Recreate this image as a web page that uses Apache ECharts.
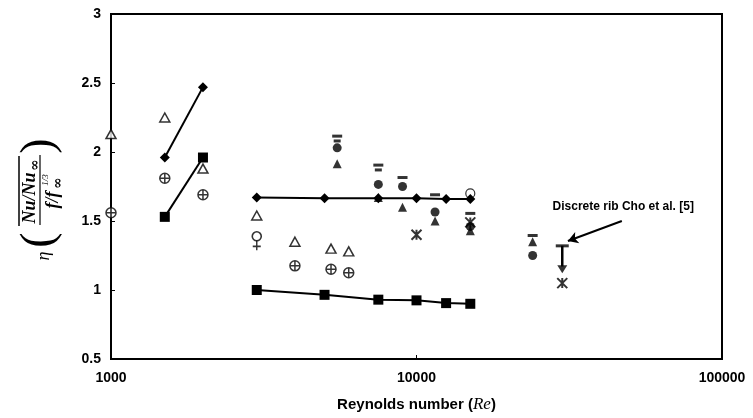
<!DOCTYPE html>
<html>
<head>
<meta charset="utf-8">
<script src="https://cdn.jsdelivr.net/npm/echarts@6/dist/echarts.min.js"></script>
<style>html,body{margin:0;padding:0;background:#fff;}#c{width:753px;height:418px;}</style>
</head>
<body>
<div id="c"></div>
<script>
// ---- data ----
const xTicks = [1000, 10000, 100000];
const yTicks = [0.5, 1, 1.5, 2, 2.5, 3];
const reLeft = [1500, 2000];
const diamondLeft = [1.96, 2.47];
const squareLeft = [1.53, 1.96];
const reMid = [3000, 5000, 7500, 10000, 12500, 15000];
const diamondMid = [1.67, 1.665, 1.665, 1.665, 1.66, 1.66];
const squareMid = [1.00, 0.965, 0.93, 0.925, 0.905, 0.90];
const openTriRe = [1000, 1500, 2000, 3000, 4000, 5250, 6000];
const openTriVal = [2.13, 2.25, 1.88, 1.54, 1.35, 1.30, 1.28];
const crossCircRe = [1000, 1500, 2000, 4000, 5250, 6000];
const crossCircVal = [1.56, 1.81, 1.69, 1.175, 1.15, 1.125];
const venusRe = [3000];
const venusVal = [1.36];
const dotRe = [5500, 7500, 9000, 11500, 15000, 24000];
const dotVal = [2.03, 1.765, 1.75, 1.565, 1.46, 1.25];
const triRe = [5500, 7500, 9000, 11500, 15000, 24000];
const triVal = [1.915, 1.67, 1.60, 1.50, 1.43, 1.35];
const barRe = [5500, 7500, 9000, 11500, 15000, 24000];
const barVal = [2.115, 1.905, 1.815, 1.69, 1.555, 1.395];
const bar2Re = [5500, 7500];
const bar2Val = [2.08, 1.87];
const starRe = [10000, 15000, 30000];
const starVal = [1.40, 1.49, 1.05];
const openCircRe = [15000];
const openCircVal = [1.70];
const choRe = [30000];
const choTop = [1.32];
const choBottom = [1.17];
const choTri = [1.15];
const annotText = 'Discrete rib Cho et al. [5]';
const arrowFrom = [47000, 1.50];
const arrowTo = [31300, 1.355];
const textAt = [47500, 1.606];

const zip = (a, b) => a.map((v, i) => [v, b[i]]);
const BOLD = '"Liberation Sans", Arial, sans-serif';

const P_CROSSC = 'path://M0,5A5,5 0 1,1 10,5A5,5 0 1,1 0,5ZM0,5L10,5M5,0L5,10';
const P_PLUS = 'path://M5,0L5,10M1,6L9,6';
const P_DASH = 'path://M0,0L10,0L10,2L0,2Z';
const P_STAR = 'path://M0,0L10,10M10,0L0,10M5,0L5,10';

const chart = echarts.init(document.getElementById('c'), null, {renderer: 'canvas'});

const scat = (name, data, symbol, size, style, extra) => Object.assign({
  name, type: 'scatter', data, symbol, symbolSize: size, symbolKeepAspect: true,
  itemStyle: style, z: 5
}, extra || {});

const lineS = (data, symbol, size) => ({
  type: 'line', data, symbol, symbolSize: size, showSymbol: true,
  lineStyle: {color: '#000', width: 2}, itemStyle: {color: '#000'}, z: 4
});

chart.setOption({
  animation: false,
  backgroundColor: '#fff',
  grid: {left: 111, right: 31, top: 14, bottom: 56, show: true, borderColor: '#000', borderWidth: 2, backgroundColor: 'transparent'},
  xAxis: {
    type: 'log', logBase: 10, min: 1000, max: 100000,
    axisLine: {show: true, lineStyle: {color: '#000', width: 2}},
    axisTick: {show: true, inside: true, length: 4, lineStyle: {color: '#000'}},
    minorTick: {show: false}, splitLine: {show: false},
    axisLabel: {color: '#000', fontFamily: BOLD, fontWeight: 'bold', fontSize: 14, margin: 12,
      formatter: v => (xTicks.indexOf(Math.round(v)) >= 0 ? String(Math.round(v)) : '')},
    name: 'Reynolds number ({i|Re})', nameLocation: 'middle', nameGap: 37,
    nameTextStyle: {color: '#000', fontFamily: BOLD, fontWeight: 'bold', fontSize: 15,
      rich: {i: {fontFamily: '"Liberation Serif", serif', fontStyle: 'italic', fontSize: 17, fontWeight: 'normal', color: '#000'}}}
  },
  yAxis: {
    type: 'value', min: yTicks[0], max: yTicks[yTicks.length - 1], interval: 0.5,
    axisLine: {show: true, lineStyle: {color: '#000', width: 2}},
    axisTick: {show: true, inside: true, length: 4, lineStyle: {color: '#000'}},
    splitLine: {show: false},
    axisLabel: {color: '#000', fontFamily: BOLD, fontWeight: 'bold', fontSize: 14, margin: 10,
      formatter: v => String(v)}
  },
  series: [
    lineS(zip(reLeft, diamondLeft), 'diamond', 10),
    lineS(zip(reLeft, squareLeft), 'rect', 10),
    lineS(zip(reMid, diamondMid), 'diamond', 10),
    lineS(zip(reMid, squareMid), 'rect', 10),
    scat('openTri', zip(openTriRe, openTriVal), 'triangle', [10, 9], {color: '#fff', borderColor: '#000', borderWidth: 1.5}),
    scat('crossCirc', zip(crossCircRe, crossCircVal), P_CROSSC, 10, {color: '#fff', borderColor: '#000', borderWidth: 1.5}),
    scat('venusCross', zip(venusRe, venusVal), P_PLUS, [8, 10], {color: '#000', borderColor: '#000', borderWidth: 1.6}, {symbolOffset: [0, 5], symbolKeepAspect: false}),
    scat('venusRing', zip(venusRe, venusVal), 'circle', 9, {color: '#fff', borderColor: '#000', borderWidth: 1.6}, {symbolOffset: [0, -4], z: 6}),
    scat('dots', zip(dotRe, dotVal), 'circle', 9, {color: '#000'}),
    scat('tris', zip(triRe, triVal), 'triangle', [9, 9], {color: '#000'}),
    scat('bars', zip(barRe, barVal), P_DASH, [10, 3], {color: '#000'}, {symbolKeepAspect: false}),
    scat('bars2', zip(bar2Re, bar2Val), P_DASH, [7, 3], {color: '#000'}, {symbolKeepAspect: false}),
    scat('stars', zip(starRe, starVal), P_STAR, 10, {color: '#000', borderColor: '#000', borderWidth: 2}),
    scat('openCirc', zip(openCircRe, openCircVal), 'circle', 9, {color: '#fff', borderColor: '#000', borderWidth: 1.2}, {z: 3}),
    {type: 'line', data: [[choRe[0], choTop[0]], [choRe[0], choBottom[0]]], showSymbol: false, symbol: 'none',
      lineStyle: {color: '#000', width: 2.5}, z: 4},
    scat('choCap', zip(choRe, choTop), P_DASH, [13, 3], {color: '#000'}, {symbolKeepAspect: false}),
    scat('choTri', zip(choRe, choTri), 'triangle', [10, 8], {color: '#000'}, {symbolRotate: 180}),
    {type: 'scatter', data: [], z: 6,
      markLine: {silent: true, symbol: ['none', 'arrow'], symbolSize: [9, 10],
        lineStyle: {color: '#000', width: 2, type: 'solid'}, label: {show: false},
        data: [[{coord: arrowFrom}, {coord: arrowTo}]]}}
  ]
});

// annotation text + y-axis name
const tp = chart.convertToPixel({gridIndex: 0}, textAt);
const serifBI = 'italic bold 18px "Liberation Serif", serif';
chart.setOption({
  graphic: [
    {type: 'text', x: tp[0], y: tp[1], style: {text: annotText, font: 'bold 12px "Liberation Sans", Arial, sans-serif', fill: '#000', align: 'center', verticalAlign: 'middle'}},
    {type: 'group', x: 40, y: 198, rotation: Math.PI / 2, children: [
      {type: 'text', x: -58, y: 4, style: {text: 'η', font: 'italic 18px "Liberation Serif", serif', fill: '#000', align: 'center', verticalAlign: 'middle'}},
      {type: 'text', x: -42, y: 0, style: {text: '(', font: '46px "Liberation Serif", serif', fill: '#000', align: 'center', verticalAlign: 'middle'}},
      {type: 'text', x: 52, y: 0, style: {text: ')', font: '46px "Liberation Serif", serif', fill: '#000', align: 'center', verticalAlign: 'middle'}},
      {type: 'line', shape: {x1: -28, y1: -21, x2: 42, y2: -21}, style: {stroke: '#000', lineWidth: 1.5}},
      {type: 'text', x: 0, y: -10, style: {text: 'Nu/Nu', font: serifBI, fill: '#000', align: 'center', verticalAlign: 'middle'}},
      {type: 'text', x: 33, y: -5, style: {text: '∞', font: 'bold 14px "DejaVu Serif", serif', fill: '#000', align: 'center', verticalAlign: 'middle'}},
      {type: 'line', shape: {x1: -27, y1: 0, x2: 43, y2: 0}, style: {stroke: '#000', lineWidth: 1.2}},
      {type: 'text', x: -2, y: 13, style: {text: 'f/f', font: serifBI, fill: '#000', align: 'center', verticalAlign: 'middle'}},
      {type: 'text', x: 15, y: 18, style: {text: '∞', font: 'bold 14px "DejaVu Serif", serif', fill: '#000', align: 'center', verticalAlign: 'middle'}},
      {type: 'text', x: 18, y: 6, style: {text: '1/3', font: 'italic 9px "Liberation Serif", serif', fill: '#000', align: 'center', verticalAlign: 'middle'}}
    ]}
  ]
});
</script>
</body>
</html>
